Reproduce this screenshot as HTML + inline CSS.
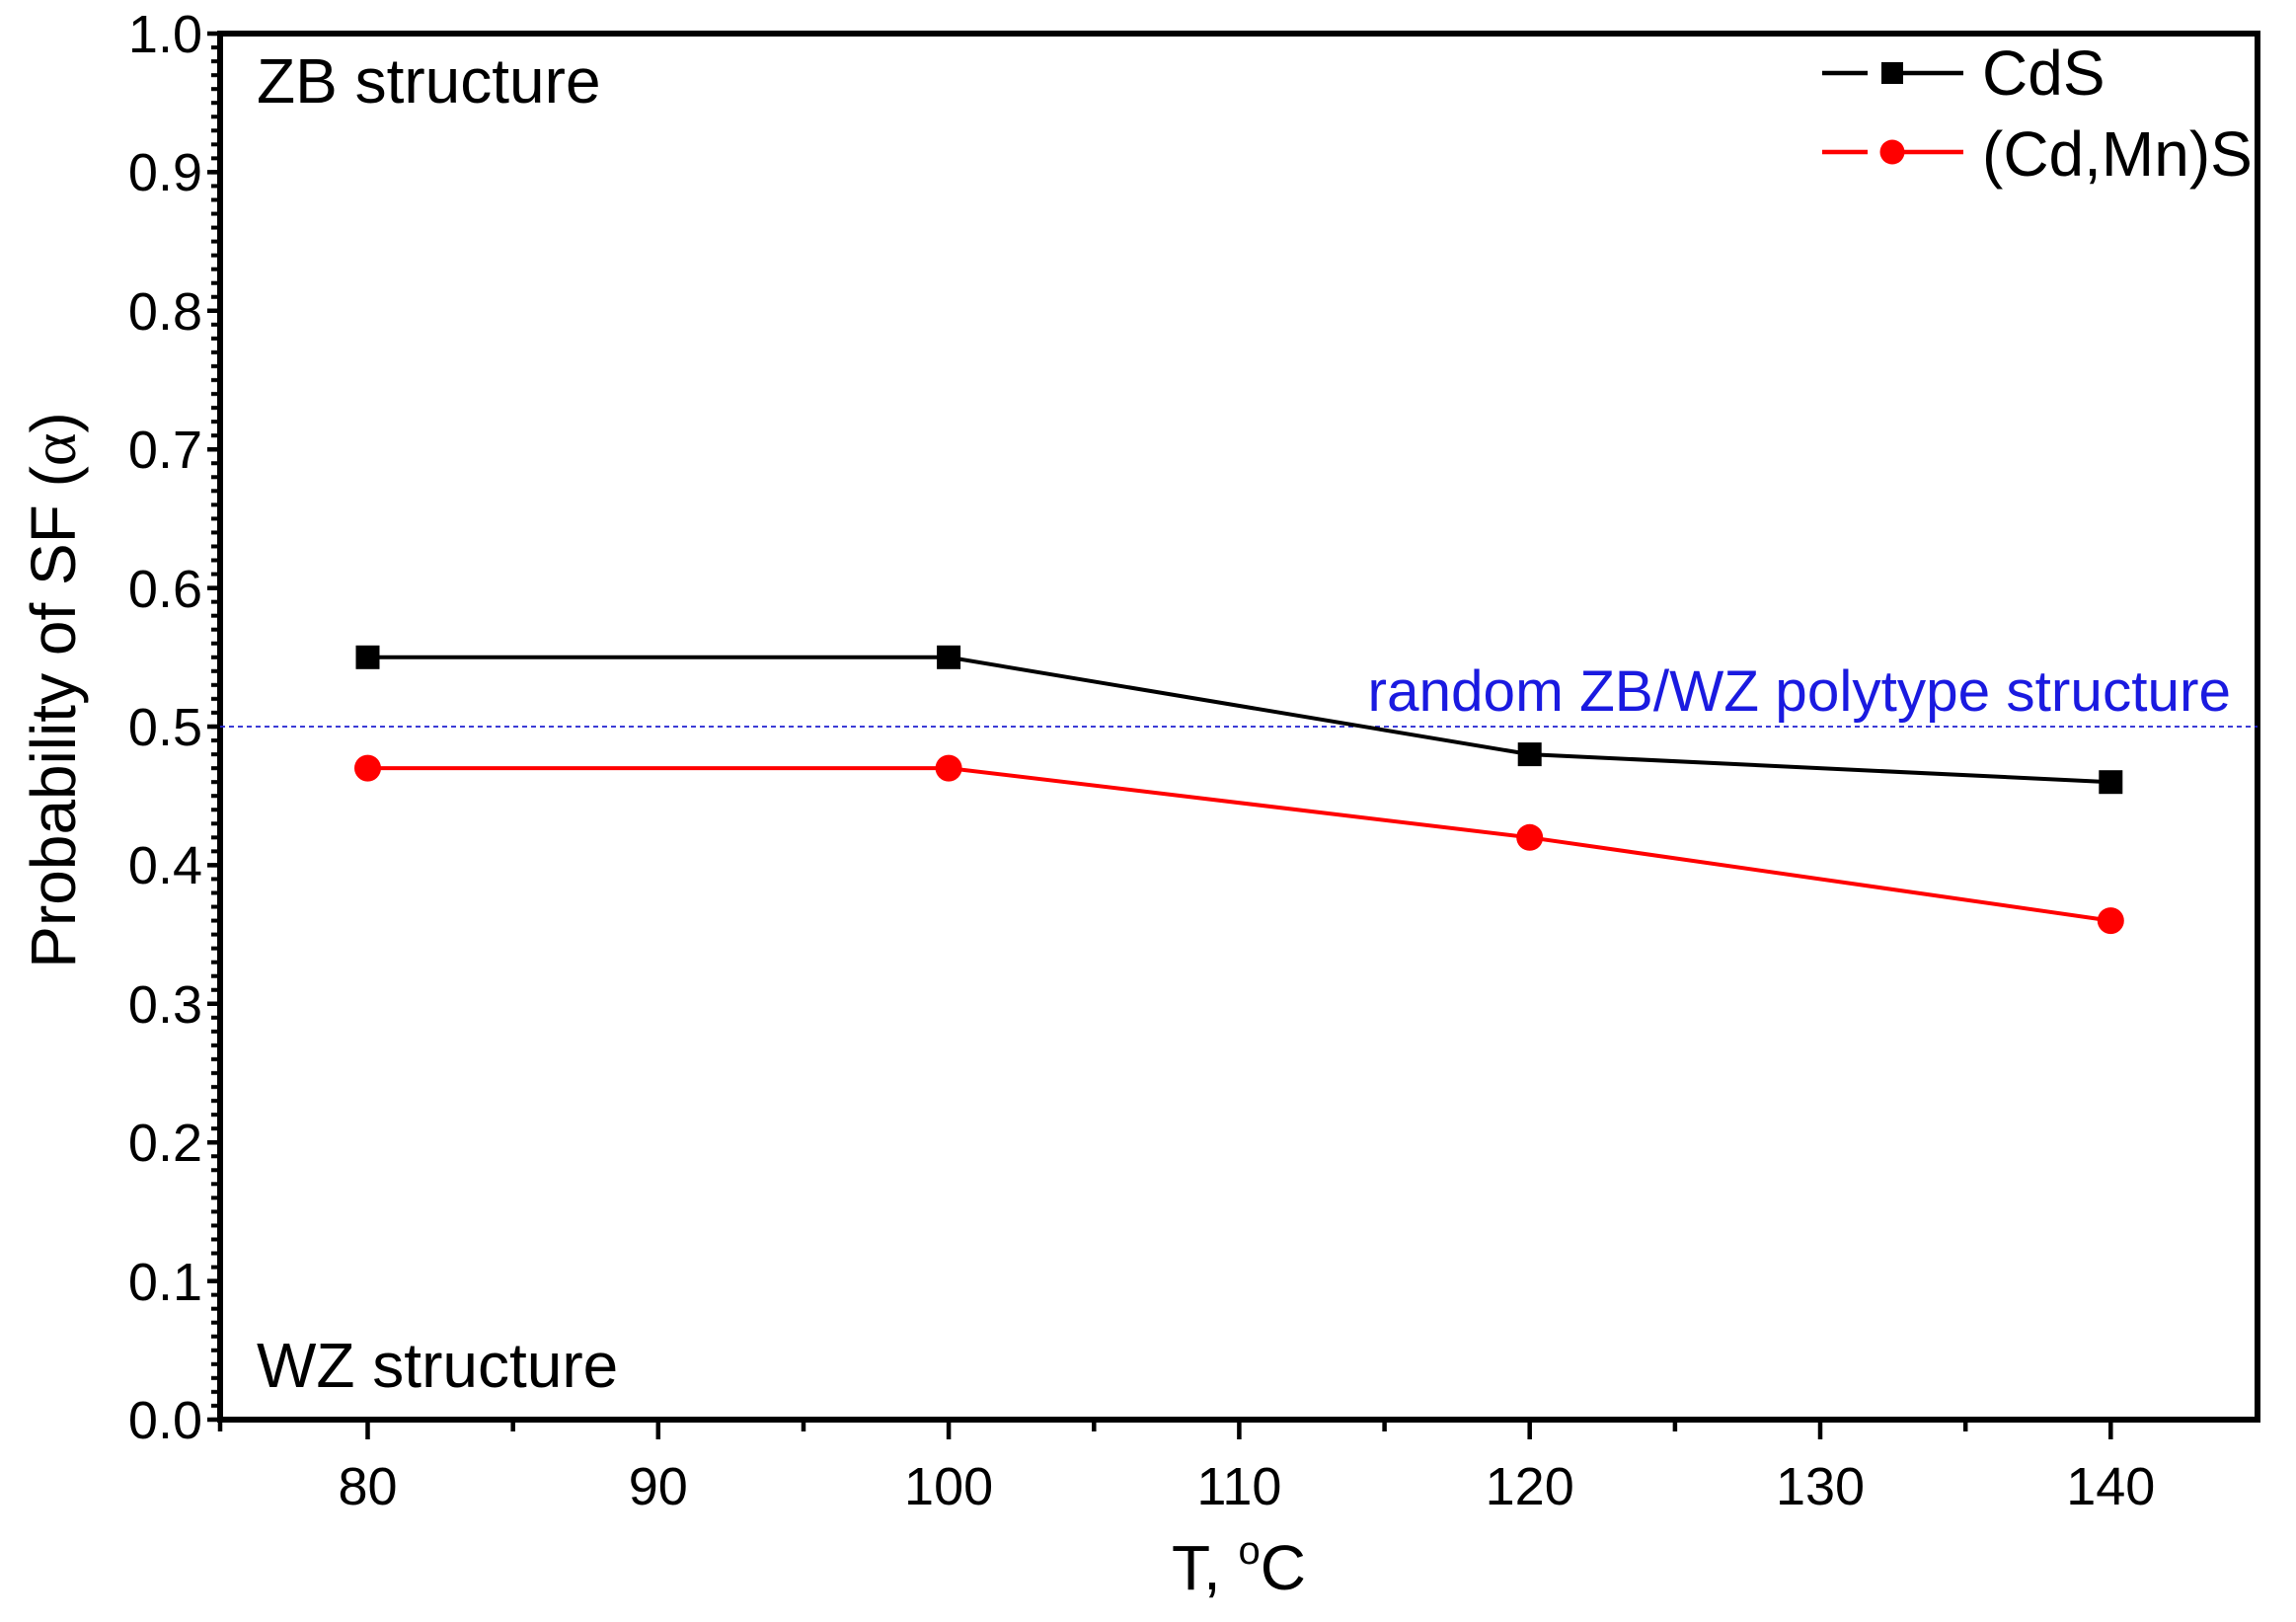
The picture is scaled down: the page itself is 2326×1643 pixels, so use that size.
<!DOCTYPE html>
<html><head><meta charset="utf-8"><style>body{margin:0;background:#fff}</style></head>
<body>
<svg width="2326" height="1638" viewBox="0 0 2326 1638" xmlns="http://www.w3.org/2000/svg" font-family="Liberation Sans, Arial, sans-serif">
<defs>
<pattern id="mt" patternUnits="userSpaceOnUse" x="0" y="1431" width="20" height="14.04">
<rect x="0" y="5" width="20" height="4" fill="#000"/>
</pattern>
</defs>
<rect width="2326" height="1638" fill="#fff"/>
<rect x="214" y="36" width="9" height="1402" fill="url(#mt)"/>
<g stroke="#000" stroke-width="4.5">
<path d="M210 1438H225M210 1297.6H225M210 1157.2H225M210 1016.8H225M210 876.4H225M210 736H225M210 595.6H225M210 455.2H225M210 314.8H225M210 174.4H225M210 34H225"/>
<path d="M372.5 1438V1458M666.8 1438V1458M961.1 1438V1458M1255.4 1438V1458M1549.7 1438V1458M1844 1438V1458M2138.3 1438V1458"/>
<path d="M223 1438V1450M519.7 1438V1450M814 1438V1450M1108.3 1438V1450M1402.6 1438V1450M1696.9 1438V1450M1991.2 1438V1450"/>
</g>
<rect x="223" y="34" width="2064" height="1404" fill="none" stroke="#000" stroke-width="6"/>
<line x1="223" y1="736" x2="2287" y2="736" stroke="#2020d0" stroke-width="1.8" stroke-dasharray="5,4"/>
<polyline points="372.5,665.8 961.1,665.8 1549.7,764.1 2138.3,792.2" fill="none" stroke="#000" stroke-width="4"/>
<polyline points="372.5,778.1 961.1,778.1 1549.7,848.3 2138.3,932.6" fill="none" stroke="#f00" stroke-width="4"/>
<g fill="#000"><rect x="360.5" y="653.8" width="24" height="24"/><rect x="949.1" y="653.8" width="24" height="24"/><rect x="1537.7" y="752.1" width="24" height="24"/><rect x="2126.3" y="780.2" width="24" height="24"/></g>
<g fill="#f00"><circle cx="372.5" cy="778.1" r="13.5"/><circle cx="961.1" cy="778.1" r="13.5"/><circle cx="1549.7" cy="848.3" r="13.5"/><circle cx="2138.3" cy="932.6" r="13.5"/></g>
<g font-size="54" text-anchor="end">
<text x="205" y="1457">0.0</text><text x="205" y="1317">0.1</text><text x="205" y="1176">0.2</text><text x="205" y="1036">0.3</text><text x="205" y="895">0.4</text><text x="205" y="755">0.5</text><text x="205" y="615">0.6</text><text x="205" y="474">0.7</text><text x="205" y="334">0.8</text><text x="205" y="193">0.9</text><text x="205" y="53">1.0</text>
</g>
<g font-size="54" text-anchor="middle">
<text x="372.5" y="1524">80</text><text x="666.8" y="1524">90</text><text x="961.1" y="1524">100</text><text x="1255.4" y="1524">110</text><text x="1549.7" y="1524">120</text><text x="1844" y="1524">130</text><text x="2138.3" y="1524">140</text>
</g>
<text x="1255" y="1610" font-size="64" text-anchor="middle">T, <tspan font-size="40" dy="-26">o</tspan><tspan dy="26">C</tspan></text>
<text transform="translate(76,699) rotate(-90)" font-size="64" text-anchor="middle">Probability of SF (<tspan font-family="Liberation Serif, serif">α</tspan>)</text>
<text x="260" y="104" font-size="64">ZB structure</text>
<text x="260" y="1405" font-size="64">WZ structure</text>
<text x="2260" y="720" font-size="58.5" fill="#1a1ae0" text-anchor="end">random ZB/WZ polytype structure</text>
<line x1="1846" y1="74" x2="1892" y2="74" stroke="#000" stroke-width="4.5"/>
<line x1="1928" y1="74" x2="1989" y2="74" stroke="#000" stroke-width="4.5"/>
<rect x="1906" y="63" width="22" height="22" fill="#000"/>
<text x="2008" y="96" font-size="64">CdS</text>
<line x1="1846" y1="154" x2="1892" y2="154" stroke="#f00" stroke-width="4.5"/>
<line x1="1928" y1="154" x2="1989" y2="154" stroke="#f00" stroke-width="4.5"/>
<circle cx="1917" cy="154" r="12.5" fill="#f00"/>
<text x="2008" y="178" font-size="64">(Cd,Mn)S</text>
</svg>
</body></html>
